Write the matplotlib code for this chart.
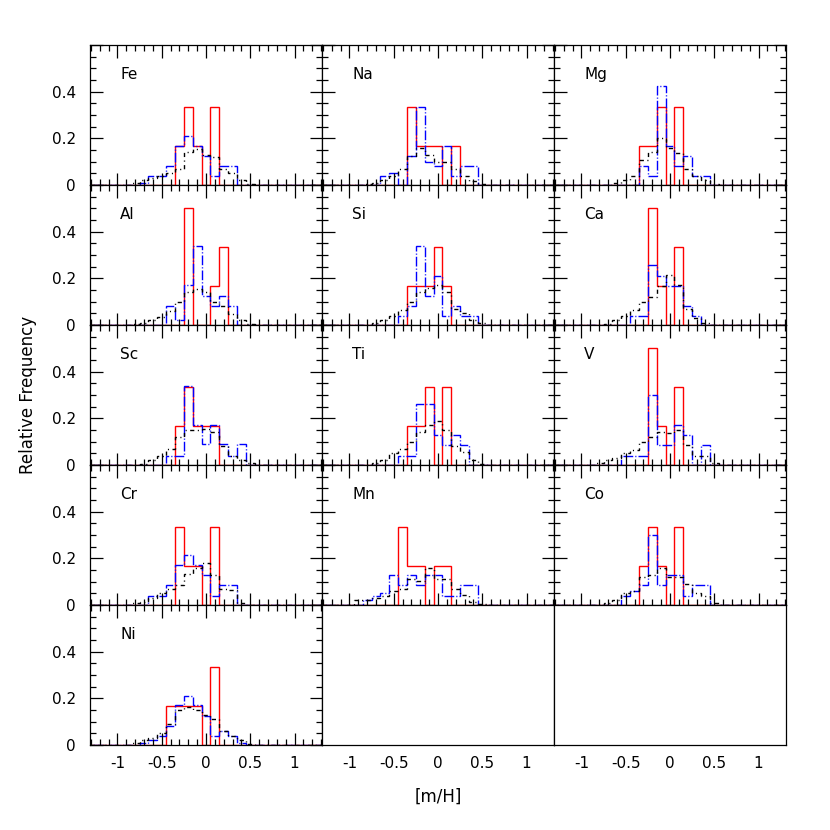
import matplotlib.pyplot as plt
import numpy as np
from matplotlib.ticker import MultipleLocator, FixedLocator

plt.rcParams['font.family'] = ['DejaVu Sans']
plt.rcParams['axes.unicode_minus'] = False
plt.rcParams['lines.scale_dashes'] = False

ELEMENTS = ["Fe", "Na", "Mg", "Al", "Si", "Ca", "Sc", "Ti", "V", "Cr", "Mn", "Co", "Ni"]

# histogram bin centres in [m/H], bins 0.1 wide
BIN_CENTRES = [-0.9, -0.8, -0.7, -0.6, -0.5, -0.4, -0.3, -0.2,
               -0.1, 0.0, 0.1, 0.2, 0.3, 0.4, 0.5, 0.6]

# red solid histograms
RED = {
    "Fe": [0, 0, 0, 0, 0, 0, .167, .333, .167, 0, .333, 0, 0, 0, 0, 0],
    "Na": [0, 0, 0, 0, 0, 0, .333, .167, .167, .167, 0, .167, 0, 0, 0, 0],
    "Mg": [0, 0, 0, 0, 0, 0, .167, .167, .333, 0, .333, 0, 0, 0, 0, 0],
    "Al": [0, 0, 0, 0, 0, 0, 0, .5, 0, 0, .167, .333, 0, 0, 0, 0],
    "Si": [0, 0, 0, 0, 0, 0, .167, .167, .167, .333, .167, 0, 0, 0, 0, 0],
    "Ca": [0, 0, 0, 0, 0, 0, 0, .5, .167, 0, .333, 0, 0, 0, 0, 0],
    "Sc": [0, 0, 0, 0, 0, 0, .167, .333, .167, .167, .167, 0, 0, 0, 0, 0],
    "Ti": [0, 0, 0, 0, 0, 0, .167, .167, .333, 0, .333, 0, 0, 0, 0, 0],
    "V":  [0, 0, 0, 0, 0, 0, 0, .5, .167, 0, .333, 0, 0, 0, 0, 0],
    "Cr": [0, 0, 0, 0, 0, 0, .333, .167, .167, 0, .333, 0, 0, 0, 0, 0],
    "Mn": [0, 0, 0, 0, 0, .333, .167, .167, 0, .167, .167, 0, 0, 0, 0, 0],
    "Co": [0, 0, 0, 0, 0, 0, .167, .333, .167, 0, .333, 0, 0, 0, 0, 0],
    "Ni": [0, 0, 0, 0, 0, .167, .167, .167, .167, 0, .333, 0, 0, 0, 0, 0],
}

# blue dash-dot histograms
BLUE = {
    "Fe": [0, 0, .01, .04, .04, .08, .165, .21, .165, .125, .04, .08, .08, 0, 0, 0],
    "Na": [0, 0, 0, .04, .05, 0, .125, .333, .1, .08, .165, .04, .08, .08, 0, 0],
    "Mg": [0, 0, 0, 0, 0, 0, .08, .04, .425, .165, .08, .125, .04, .04, 0, 0],
    "Al": [0, 0, 0, 0, 0, .08, .02, .17, .34, .125, .08, .125, .08, 0, 0, 0],
    "Si": [0, 0, 0, 0, 0, .04, .08, .34, .125, .21, .04, .08, .04, .04, 0, 0],
    "Ca": [0, 0, 0, 0, 0, .04, .04, .255, .21, .165, .165, .08, .04, 0, 0, 0],
    "Sc": [0, 0, 0, 0, 0, .04, .04, .34, .17, .09, .17, .09, .04, .09, 0, 0],
    "Ti": [0, 0, 0, 0, 0, .04, .04, .26, .26, .13, .085, .13, .085, 0, 0, 0],
    "V":  [0, 0, 0, 0, .04, .04, .04, .3, .085, .085, .17, .13, 0, .085, 0, 0],
    "Cr": [0, 0, 0, .04, .04, .085, .17, .215, .17, .13, .04, .085, .085, 0, 0, 0],
    "Mn": [0, .02, .04, .05, .13, .085, .13, .085, .13, .13, .04, .04, .085, .085, 0, 0],
    "Co": [0, 0, 0, 0, .04, .06, .085, .3, .085, .13, .13, .04, .085, .085, 0, 0],
    "Ni": [0, 0, .01, .02, .04, .08, .17, .21, .17, .125, .04, .06, .04, .01, 0, 0],
}

# black dash-dot histograms
BLACK = {
    "Fe": [0, .01, .02, .03, .04, .05, .07, .14, .155, .13, .12, .067, .05, .02, .005, 0],
    "Na": [0, .005, .01, .02, .04, .067, .125, .16, .128, .10, .10, .067, .04, .015, .005, 0],
    "Mg": [0, 0, 0, .01, .02, .04, .105, .142, .2, .16, .135, .07, .04, .02, .005, 0],
    "Al": [0, .005, .01, .02, .035, .06, .1, .14, .155, .14, .1, .08, .045, .02, .005, 0],
    "Si": [0, 0, .01, .02, .04, .065, .1, .14, .16, .17, .14, .07, .05, .02, .01, 0],
    "Ca": [0, 0, .005, .02, .04, .065, .1, .12, .165, .215, .17, .07, .03, .01, 0, 0],
    "Sc": [0, 0, .005, .02, .04, .067, .118, .15, .15, .155, .14, .08, .04, .02, .01, 0],
    "Ti": [0, 0, .01, .02, .05, .067, .1, .14, .17, .19, .15, .08, .055, .02, .005, 0],
    "V":  [0, .01, .02, .03, .05, .065, .1, .12, .14, .135, .15, .085, .04, .04, .01, 0],
    "Cr": [0, .01, .015, .03, .05, .07, .085, .135, .16, .18, .13, .07, .065, .01, 0, 0],
    "Mn": [.02, .02, .03, .04, .06, .07, .11, .105, .16, .11, .11, .07, .045, .015, .005, 0],
    "Co": [0, 0, .01, .02, .05, .06, .12, .13, .16, .12, .12, .09, .05, .04, .01, 0],
    "Ni": [0, .01, .02, .03, .05, .09, .15, .165, .15, .13, .11, .06, .04, .02, .005, 0],
}

XTICK_LABELS = ["-1", "-0.5", "0", "0.5", "1"]
YTICK_LABELS = ["0", "0.2", "0.4"]


def full_grid(values):
    """pad a histogram with empty bins so the step line runs across the panel"""
    centres = np.round(np.arange(-14, 14) * 0.1, 2)
    full = np.zeros(len(centres))
    for c, v in zip(BIN_CENTRES, values):
        full[np.argmin(np.abs(centres - c))] = v
    edges = np.append(centres - 0.05, centres[-1] + 0.05)
    return full, edges


fig = plt.figure(figsize=(8.3, 8.3), dpi=100)
gs = fig.add_gridspec(5, 3, left=0.1084, right=0.947, top=0.9458, bottom=0.1024,
                      hspace=0, wspace=0)

for k in range(15):
    row, col = divmod(k, 3)
    ax = fig.add_subplot(gs[row, col])
    ax.set_xlim(-1.31, 1.31)
    ax.set_ylim(0, 0.6)
    for side in ax.spines.values():
        side.set_linewidth(0.9)

    ax.xaxis.set_major_locator(FixedLocator([-1, -0.5, 0, 0.5, 1]))
    ax.xaxis.set_minor_locator(MultipleLocator(0.1))
    ax.yaxis.set_major_locator(FixedLocator([0, 0.2, 0.4, 0.6]))
    ax.yaxis.set_minor_locator(MultipleLocator(0.05))
    ax.tick_params(which="both", direction="in", top=True, right=True,
                   labelsize=11, width=0.9)
    ax.tick_params(which="major", length=9)
    ax.tick_params(which="minor", length=4.5)

    if k < len(ELEMENTS):
        el = ELEMENTS[k]
        for data, color, ls in [(RED, "red", "-"),
                                (BLUE, "blue", (0, (7, 1.5, 0.8, 1.5))),
                                (BLACK, "black", (0, (3, 2.5, 0.8, 2.5)))]:
            vals, edges = full_grid(data[el])
            ax.stairs(vals, edges, baseline=None, color=color, lw=1.0, linestyle=ls)
        ax.text(0.13, 0.79, el, transform=ax.transAxes, fontsize=11,
                ha="left", va="center")
    else:
        # empty panels: frame and labels only, no ticks
        ax.tick_params(which="both", length=0)

    if col == 0:
        ax.set_yticklabels(YTICK_LABELS + [""])
    else:
        ax.set_yticklabels([])
    if row == 4:
        ax.set_xticklabels(XTICK_LABELS)
    else:
        ax.set_xticklabels([])
    ax.tick_params(axis="x", pad=8)
    ax.tick_params(axis="y", pad=10)

fig.text(0.034, 0.524, "Relative Frequency", rotation=90, ha="center", va="center",
         fontsize=12)
fig.text(0.528, 0.040, "[m/H]", ha="center", va="center", fontsize=12)

plt.savefig("out.png", dpi=100)
